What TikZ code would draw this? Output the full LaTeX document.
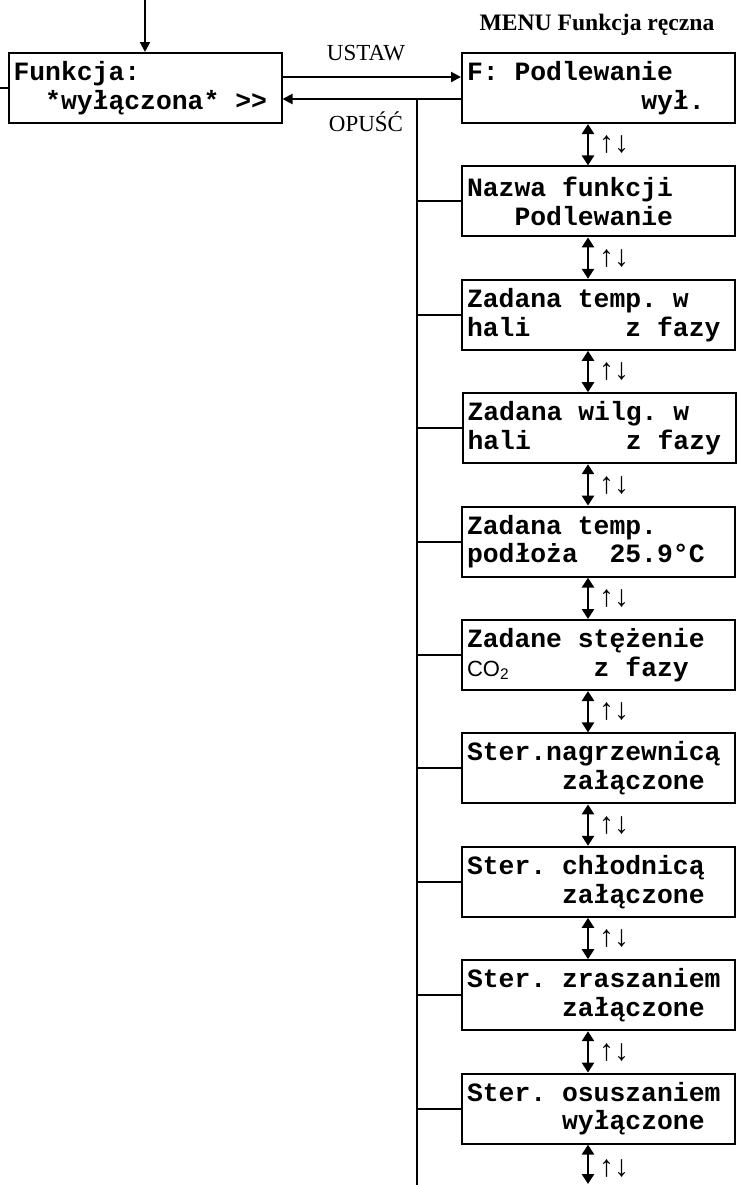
\documentclass[tikz,border=0pt]{standalone}
\usepackage{fontspec}
\setmainfont{Liberation Serif}
\newfontfamily\lcdfont{Liberation Mono}
\newfontfamily\cofont{Liberation Sans}
\usetikzlibrary{arrows.meta}
\newcommand\bl[1][x]{\hphantom{#1}}
\begin{document}
\begin{tikzpicture}[x=0.5pt,y=-0.5pt,
  lcd/.style={draw, line width=1pt, minimum height=35pt, inner xsep=2.5pt, inner ysep=0pt,
    text width=131.5pt, align=left, font=\lcdfont\bfseries\fontsize{13.2}{14.4}\selectfont},
  nav/.style={line width=1.4pt, {Triangle[width=6pt,length=5pt]}-{Triangle[width=6pt,length=5pt]}},
  arr/.style={line width=1pt, -{Triangle[width=5pt,length=5pt]}},
  wire/.style={line width=1pt},
  lbl/.style={font=\fontsize{11.5}{13}\selectfont, inner sep=0pt},
  updn/.style={font=\fontsize{15}{16}\selectfont, inner sep=0pt}]
\useasboundingbox (0,0) rectangle (736,1185);

% left box
\node[lcd] (f) at (145,88) {\mbox{Funkcja:}\\\mbox{\bl[xx]*wyłączona*\bl>>}};
\coordinate (top) at (145,0);
\coordinate (lft) at (0,88);
\draw[arr] (top) -- (f.north);
\draw[wire] (lft) -- (f.west);

% title
\node[font=\bfseries\fontsize{11.8}{13}\selectfont, inner sep=0pt] (title) at (597,25) {MENU Funkcja ręczna};

% right column
\node[lcd] (b1) at (598.5,88.0) {\mbox{F:\bl Podlewanie}\\\mbox{\bl[xxxxxxxxxxx]wył.}};
\node[lcd] (b2) at (598.5,201.4) {\mbox{Nazwa\bl funkcji}\\\mbox{\bl[xxx]Podlewanie}};
\node[lcd] (b3) at (598.5,314.8) {\mbox{Zadana\bl temp.\bl w}\\\mbox{hali\bl[xxxxxx]z\bl fazy}};
\node[lcd] (b4) at (599.0,428.2) {\mbox{Zadana\bl wilg.\bl w}\\\mbox{hali\bl[xxxxxx]z\bl fazy}};
\node[lcd] (b5) at (598.5,541.6) {\mbox{Zadana\bl temp.}\\\mbox{podłoża\bl[xx]25.9°C}};
\node[lcd] (b6) at (598.5,655.0) {\mbox{Zadane\bl stężenie}\\\mbox{\makebox[0pt][l]{\cofont\mdseries\fontsize{11}{13}\selectfont CO\textsubscript{2}}\bl[xxxxxxxx]z\bl fazy}};
\node[lcd] (b7) at (598.5,768.4) {\mbox{Ster.nagrzewnicą}\\\mbox{\bl[xxxxxx]załączone}};
\node[lcd] (b8) at (598.5,881.8) {\mbox{Ster.\bl chłodnicą}\\\mbox{\bl[xxxxxx]załączone}};
\node[lcd] (b9) at (598.5,995.2) {\mbox{Ster.\bl zraszaniem}\\\mbox{\bl[xxxxxx]załączone}};
\node[lcd] (b10) at (598.5,1108.6) {\mbox{Ster.\bl osuszaniem}\\\mbox{\bl[xxxxxx]wyłączone}};

% USTAW / OPUŚĆ
\draw[arr] ([yshift=5.5pt]f.east) -- ([yshift=5.5pt]f.east -| b1.west);
\draw[arr] ([yshift=-5.5pt]f.east -| b1.west) -- ([yshift=-5.5pt]f.east);
\node[lbl] (ustaw) at (366,53) {USTAW};
\node[lbl] (opusc) at (366,122) {OPUŚĆ};

% vertical return line
\coordinate (vt) at (417,99);
\coordinate (vb) at (417,1185);
\draw[wire] (vt) -- (vb);
\foreach \b in {b2,b3,b4,b5,b6,b7,b8,b9,b10}{
  \draw[wire] (vt |- \b.west) -- (\b.west);
}

% navigation arrows
\coordinate (ax) at (588,0);
\coordinate (end) at (588,1184);
\draw[nav] (b1.south -| ax) -- (b2.north -| ax);
\draw[nav] (b2.south -| ax) -- (b3.north -| ax);
\draw[nav] (b3.south -| ax) -- (b4.north -| ax);
\draw[nav] (b4.south -| ax) -- (b5.north -| ax);
\draw[nav] (b5.south -| ax) -- (b6.north -| ax);
\draw[nav] (b6.south -| ax) -- (b7.north -| ax);
\draw[nav] (b7.south -| ax) -- (b8.north -| ax);
\draw[nav] (b8.south -| ax) -- (b9.north -| ax);
\draw[nav] (b9.south -| ax) -- (b10.north -| ax);
\draw[nav] (b10.south -| ax) -- (end);

\node[updn] (s1) at (614,145) {↑↓};
\node[updn] (s2) at (614,258.4) {↑↓};
\node[updn] (s3) at (614,371.8) {↑↓};
\node[updn] (s4) at (614,485.2) {↑↓};
\node[updn] (s5) at (614,598.6) {↑↓};
\node[updn] (s6) at (614,712) {↑↓};
\node[updn] (s7) at (614,825.4) {↑↓};
\node[updn] (s8) at (614,938.8) {↑↓};
\node[updn] (s9) at (614,1052.2) {↑↓};
\node[updn] (s10) at (614,1168) {↑↓};
\end{tikzpicture}
\end{document}
